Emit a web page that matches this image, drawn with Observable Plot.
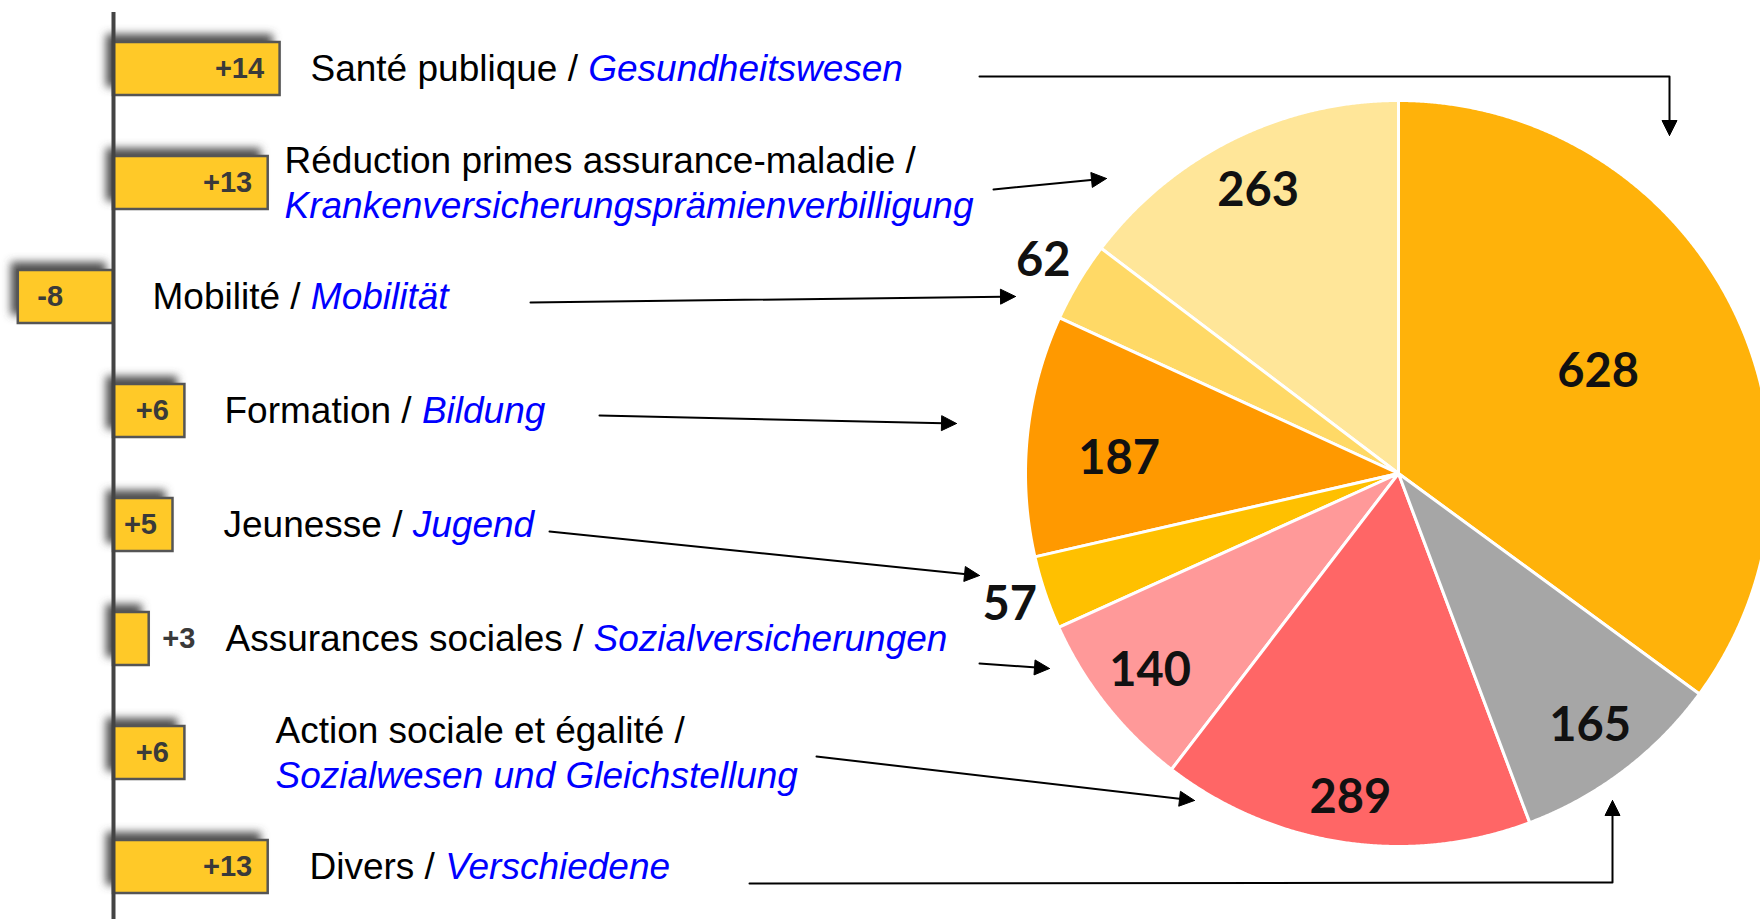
<!DOCTYPE html>
<html><head><meta charset="utf-8">
<script src="https://cdn.jsdelivr.net/npm/d3@7"></script>
<script src="https://cdn.jsdelivr.net/npm/@observablehq/plot@0.6"></script>
<style>
html,body{margin:0;padding:0;background:#fff;overflow:hidden;}
#chart{position:relative;width:1760px;height:919px;overflow:hidden;}
#chart > svg{position:absolute;left:0;top:0;}
</style></head>
<body><div id="chart"></div>
<script>
// ---- data ----
const categoriesFr = ["Santé publique", "Réduction primes assurance-maladie", "Mobilité", "Formation", "Jeunesse", "Assurances sociales", "Action sociale et égalité", "Divers"];
const categoriesDe = ["Gesundheitswesen", "Krankenversicherungsprämienverbilligung", "Mobilität", "Bildung", "Jugend", "Sozialversicherungen", "Sozialwesen und Gleichstellung", "Verschiedene"];
const changes = [14, 13, -8, 6, 5, 3, 6, 13];
const changeLabels = ["+14", "+13", "-8", "+6", "+5", "+3", "+6", "+13"];
const amounts = [628, 263, 62, 187, 57, 140, 289, 165];

// ---- layout / style ----
const W = 1760, H = 919;
const zeroPx = 113, pxPerUnit = 11.9;
const labelLeft = [310, 284, 152, 224, 223, 225, 275, 309];
const twoLineLabel = [false, true, false, false, false, false, true, false];
const sliceColors = ["#FFB20A", "#FFE699", "#FFD966", "#FF9900", "#FFC000", "#FF9999", "#FF6666", "#A6A6A6"];
const pieCenter = [1398, 473], pieRadius = 373;
const pieLabelRadius = [0.6, 0.845, 1.11, 0.75, 1.1, 0.85, 0.88, 0.85];
const pieLabelTurn = [0, 0, 0, -2.8, 0, 0, 0, 0]; // degrees
const connectors = [
  [[979, 76], [1669, 76], [1669, 135]],
  [[993, 189], [1106, 178]],
  [[530, 302], [1015, 296]],
  [[599, 415], [956, 423]],
  [[549, 531], [979, 575]],
  [[979, 663], [1049, 668]],
  [[816, 756], [1194, 800]],
  [[749, 883], [1612, 882], [1612, 800]]
];
const blue = "#0000FF";
const shadowColor = "#505050";

const rows = categoriesFr.map((fr, i) => ({
  fr, de: categoriesDe[i], value: changes[i], label: changeLabels[i],
  name: fr + (twoLineLabel[i] ? " /\n" : " / ") + categoriesDe[i],
  lx: (labelLeft[i] - zeroPx) / pxPerUnit
}));

const valueText = {y: "fr", x: "value", text: "label", fontSize: 29, fontWeight: "bold", fill: "#3a3a3a"};

const bars = Plot.plot({
  width: W, height: H, marginTop: 12, marginBottom: 0, marginLeft: 0, marginRight: 0,
  style: {fontFamily: "'Liberation Sans', Arial, sans-serif", background: "white", overflow: "visible"},
  x: {domain: [-zeroPx / pxPerUnit, (W - zeroPx) / pxPerUnit], range: [0, W], axis: null},
  y: {domain: categoriesFr, range: [11.5, 923.5], paddingInner: 0.535, paddingOuter: 0.2675, axis: null},
  marks: [
    Plot.barX(rows, {y: "fr", x: "value", fill: shadowColor, dx: -7, dy: -8}),
    Plot.barX(rows, {y: "fr", x: "value", fill: "#FFC928", stroke: "#555", strokeWidth: 2.5}),
    Plot.ruleX([0], {stroke: "#444", strokeWidth: 4}),
    Plot.text(rows.filter(d => d.value >= 4), {...valueText, textAnchor: "end", dx: -16}),
    Plot.text(rows.filter(d => d.value > 0 && d.value < 4), {...valueText, textAnchor: "start", dx: 13}),
    Plot.text(rows.filter(d => d.value < 0), {...valueText, textAnchor: "start", dx: 19}),
    Plot.text(rows, {y: "fr", x: "lx", text: "name", textAnchor: "start", fontSize: 37, lineHeight: 1.22, dy: -2, fill: "#000"})
  ]
});

// shadow blur
const ns = "http://www.w3.org/2000/svg";
const defs = document.createElementNS(ns, "defs");
defs.innerHTML = '<filter id="shadowBlur" x="-30%" y="-30%" width="160%" height="160%"><feGaussianBlur stdDeviation="4"/></filter>';
bars.insertBefore(defs, bars.firstChild);
bars.querySelectorAll("g").forEach(g => {
  if ((g.getAttribute("fill") || "").toLowerCase() === shadowColor.toLowerCase()) {
    g.setAttribute("filter", "url(#shadowBlur)");
  }
});

// style German parts
const deSet = new Set(categoriesDe);
function styleDe(el) { el.setAttribute("fill", blue); el.setAttribute("font-style", "italic"); }
bars.querySelectorAll("text").forEach(t => {
  const tsp = t.querySelectorAll("tspan");
  if (tsp.length) {
    tsp.forEach(s => { if (deSet.has(s.textContent.trim())) styleDe(s); });
  } else {
    const s = t.textContent, k = s.indexOf(" / ");
    if (k >= 0 && deSet.has(s.slice(k + 3))) {
      t.textContent = "";
      const a = document.createElementNS(ns, "tspan"); a.textContent = s.slice(0, k + 3);
      const b = document.createElementNS(ns, "tspan"); b.textContent = s.slice(k + 3); styleDe(b);
      t.appendChild(a); t.appendChild(b);
    }
  }
});

// ---- pie ----
const total = d3.sum(amounts);
const start = 2 * Math.PI * amounts[0] / total;
const arcs = d3.pie().sort(null).startAngle(start).endAngle(start - 2 * Math.PI)(amounts);
const [cx, cy] = pieCenter;
const slicePolys = arcs.map((a, i) => {
  const n = Math.max(4, Math.ceil(Math.abs(a.endAngle - a.startAngle) / 0.004));
  const pts = [{x: cx, y: cy}];
  for (let k = 0; k <= n; k++) {
    const ang = a.startAngle + (a.endAngle - a.startAngle) * k / n;
    pts.push({x: cx + pieRadius * Math.sin(ang), y: cy - pieRadius * Math.cos(ang)});
  }
  pts.push({x: cx, y: cy});
  return pts;
});
const pieLabels = arcs.map((a, i) => {
  const m = (a.startAngle + a.endAngle) / 2 + pieLabelTurn[i] * Math.PI / 180;
  const r = pieRadius * pieLabelRadius[i];
  return {x: cx + r * Math.sin(m), y: cy - r * Math.cos(m), text: String(amounts[i])};
});

// ---- connectors ----
const shafts = [], heads = [];
connectors.forEach((pts, j) => {
  const T = pts[pts.length - 1], P = pts[pts.length - 2];
  const dx = T[0] - P[0], dy = T[1] - P[1], L = Math.hypot(dx, dy);
  const ux = dx / L, uy = dy / L, nx = -uy, ny = ux;
  const hl = 15, hw = 7.5;
  const B = [T[0] - hl * ux, T[1] - hl * uy];
  pts.slice(0, -1).forEach(p => shafts.push({j, x: p[0], y: p[1]}));
  shafts.push({j, x: B[0] + 2 * ux, y: B[1] + 2 * uy});
  heads.push({j, x: T[0], y: T[1]}, {j, x: B[0] + hw * nx, y: B[1] + hw * ny}, {j, x: B[0] - hw * nx, y: B[1] - hw * ny}, {j, x: T[0], y: T[1]});
});

const overlay = Plot.plot({
  width: W, height: H, margin: 0,
  style: {background: "transparent", overflow: "visible"},
  x: {domain: [0, W], range: [0, W], axis: null},
  y: {domain: [0, H], range: [0, H], axis: null},
  marks: [
    ...slicePolys.map((pts, i) => Plot.line(pts, {x: "x", y: "y", fill: sliceColors[i], stroke: "white", strokeWidth: 3, strokeLinejoin: "round"})),
    Plot.text(pieLabels, {x: "x", y: "y", text: "text", fontSize: 47, fontWeight: 700, fontFamily: "Lato, 'Open Sans', sans-serif", fill: "#111"}),
    Plot.line(shafts, {x: "x", y: "y", z: "j", stroke: "#000", strokeWidth: 2}),
    Plot.line(heads, {x: "x", y: "y", z: "j", fill: "#000", stroke: "#000", strokeWidth: 1})
  ]
});

const chart = document.getElementById("chart");
chart.appendChild(bars);
chart.appendChild(overlay);
</script>
</body></html>
